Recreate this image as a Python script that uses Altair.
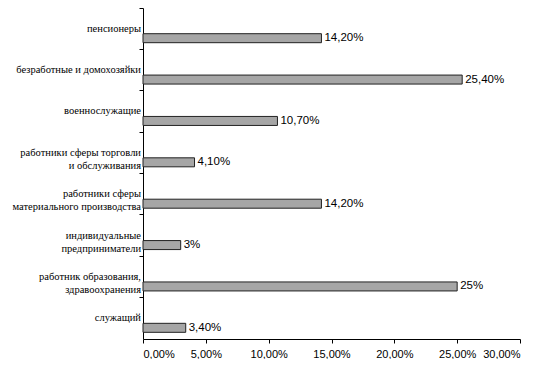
import altair as alt
import pandas as pd

categories = [
    "пенсионеры",
    "безработные и домохозяйки",
    "военнослужащие",
    "работники сферы торговли\nи обслуживания",
    "работники сферы\nматериального производства",
    "индивидуальные\nпредприниматели",
    "работник образования,\nздравоохранения",
    "служащий",
]
values = [14.2, 25.4, 10.7, 4.1, 14.2, 3.0, 25.0, 3.4]
value_labels = ["14,20%", "25,40%", "10,70%", "4,10%", "14,20%", "3%", "25%", "3,40%"]

df = pd.DataFrame({
    "cat": categories,
    "value": [v / 100 for v in values],
    "vlabel": value_labels,
})

y_enc = alt.Y(
    "cat:N",
    sort=categories,
    scale=alt.Scale(paddingInner=0, paddingOuter=0),
    axis=alt.Axis(labels=False, title=None, ticks=True, tickSize=4,
                  bandPosition=0, domainColor="#000", tickColor="#000",
                  grid=False),
)

x_enc = alt.X(
    "value:Q",
    scale=alt.Scale(domain=[0, 0.30], nice=False),
    axis=alt.Axis(
        title=None,
        values=[0, 0.05, 0.10, 0.15, 0.20, 0.25, 0.30],
        labelExpr="replace(format(datum.value, '.2%'), '.', ',')",
        tickSize=4, labelPadding=5, grid=False,
        domainColor="#000", tickColor="#000",
        labelFont="Liberation Sans", labelFontSize=11, labelColor="#000",
    ),
)

bars = alt.Chart(df).mark_bar(
    size=9, yOffset=9.5, fill="#a6a6a6", stroke="#222", strokeWidth=1
).encode(x=x_enc, y=y_enc)

vtext = alt.Chart(df).mark_text(
    align="left", baseline="middle", dx=3, yOffset=9.5,
    font="Liberation Sans", fontSize=11.5, color="#000"
).encode(x="value:Q", y=alt.Y("cat:N", sort=categories), text="vlabel:N")

ctext = alt.Chart(df).mark_text(
    align="right", baseline="middle", lineBreak="\n", lineHeight=13,
    font="Liberation Serif", fontSize=10.5, color="#000"
).encode(x=alt.value(-2), y=alt.Y("cat:N", sort=categories), text="cat:N")

chart = alt.layer(bars, vtext, ctext).properties(
    width=377, height=331,
    autosize=alt.AutoSizeParams(type="none"),
    padding={"left": 135, "top": 0, "right": 10, "bottom": 20},
    background="white",
).configure_view(strokeWidth=0, fill="white")

chart.save("out.html", embed_options={"renderer": "svg", "actions": False})
